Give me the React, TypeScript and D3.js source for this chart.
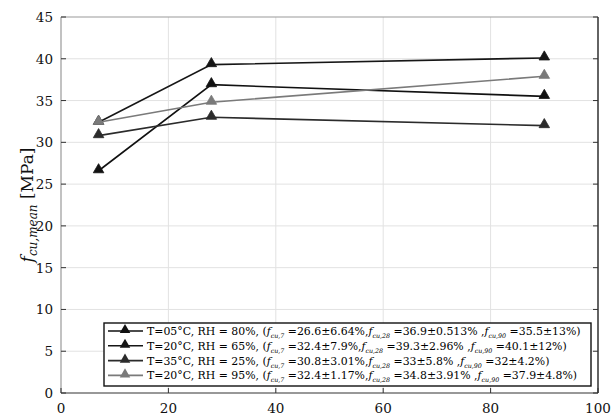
import * as d3 from 'd3';

const ages = [7, 28, 90];
const seriesNames = ['T=05°C, RH = 80%', 'T=20°C, RH = 65%', 'T=35°C, RH = 25%', 'T=20°C, RH = 95%'];
const s1 = [26.6, 36.9, 35.5];
const s2 = [32.4, 39.3, 40.1];
const s3 = [30.8, 33, 32];
const s4 = [32.4, 34.8, 37.9];
const spreads = [
  ['6.64', '0.513', '13'],
  ['7.9', '2.96', '12'],
  ['3.01', '5.8', '4.2'],
  ['1.17', '3.91', '4.8'],
];
const xTicks = [0, 20, 40, 60, 80, 100];
const yTicks = [0, 5, 10, 15, 20, 25, 30, 35, 40, 45];

const COLORS = ['#111111', '#161616', '#2b2b2b', '#7a7a7a'];

const W = 612;
const H = 418;
const margin = { top: 17, right: 14, bottom: 25, left: 61 };
const SERIF = '"DejaVu Serif", "Liberation Serif", serif';

function Sub({ s }: { s: string }) {
  return (
    <>
      <tspan fontStyle='italic'>f</tspan>
      <tspan fontStyle='italic' fontSize='0.58em' dy={3}>{`cu,${s}`}</tspan>
      <tspan dy={-3}>{' '}</tspan>
    </>
  );
}

export default function App() {
  const series = [s1, s2, s3, s4];
  const x = d3.scaleLinear().domain([0, 100]).range([margin.left, W - margin.right]);
  const y = d3.scaleLinear().domain([0, 45]).range([H - margin.bottom, margin.top]);
  const line = d3
    .line<number>()
    .x((_, i) => x(ages[i]))
    .y((d) => y(d));
  const tri = d3.symbol(d3.symbolTriangle, 48)() ?? '';

  const [x0, x1] = x.range();
  const [yb, yt] = y.range();

  const lg = { x: 104, y: 323, w: 487, h: 63, row: 14.8 };

  return (
    <svg width={W} height={H} style={{ position: 'absolute', left: 0, top: 0, background: '#fff' }}>
      {/* grid */}
      {xTicks.slice(1, -1).map((t) => (
        <line key={'gx' + t} x1={x(t)} x2={x(t)} y1={yt} y2={yb} stroke='#e2e2e2' strokeWidth={1} />
      ))}
      {yTicks.slice(1, -1).map((t) => (
        <line key={'gy' + t} x1={x0} x2={x1} y1={y(t)} y2={y(t)} stroke='#e2e2e2' strokeWidth={1} />
      ))}

      {/* series */}
      {series.map((s, k) => (
        <g key={k}>
          <path d={line(s) ?? ''} fill='none' stroke={COLORS[k]} strokeWidth={1.6} />
          {s.map((v, i) => (
            <path key={i} d={tri} transform={`translate(${x(ages[i])},${y(v) - 1})`} fill={COLORS[k]} stroke={COLORS[k]} strokeWidth={0.8} />
          ))}
        </g>
      ))}

      {/* legend */}
      <rect x={lg.x} y={lg.y} width={lg.w} height={lg.h} fill='#fff' stroke='#111' strokeWidth={1.4} />
      {seriesNames.map((name, k) => {
        const ry = lg.y + 8 + k * lg.row;
        const s = series[k];
        const sp = spreads[k];
        return (
          <g key={name}>
            <line x1={lg.x + 4} x2={lg.x + 39} y1={ry} y2={ry} stroke={COLORS[k]} strokeWidth={1.6} />
            <path d={tri} transform={`translate(${lg.x + 21},${ry - 1})`} fill={COLORS[k]} />
            <text x={lg.x + 43} y={ry + 4} fontFamily={SERIF} fontSize={10.9} fill='#000'>
              {name + ', ('}
              <Sub s='7' />
              {`=${s[0]}±${sp[0]}%,`}
              <Sub s='28' />
              {`=${s[1]}±${sp[1]}% ,`}
              <Sub s='90' />
              {`=${s[2]}±${sp[2]}%)`}
            </text>
          </g>
        );
      })}

      {/* axes box */}
      <line x1={x0} x2={x1} y1={yt} y2={yt} stroke='#999' strokeWidth={1.2} />
      <line x1={x0} x2={x0} y1={yt} y2={yb} stroke='#999' strokeWidth={1.2} />
      <line x1={x0} x2={x1} y1={yb} y2={yb} stroke='#333' strokeWidth={1.2} />
      <line x1={x1} x2={x1} y1={yt} y2={yb} stroke='#222' strokeWidth={1.4} />
      {xTicks.map((t) => (
        <g key={'tx' + t}>
          <line x1={x(t)} x2={x(t)} y1={yb} y2={yb - 5} stroke='#333' />
          <text x={x(t)} y={yb + 20} textAnchor='middle' fontFamily={SERIF} fontSize={13.5} fill='#111'>
            {t}
          </text>
        </g>
      ))}
      {yTicks.map((t) => (
        <g key={'ty' + t}>
          <line x1={x0} x2={x0 + 5} y1={y(t)} y2={y(t)} stroke='#333' />
          <line x1={x1} x2={x1 - 5} y1={y(t)} y2={y(t)} stroke='#333' />
          <text x={x0 - 8} y={y(t) + 5} textAnchor='end' fontFamily={SERIF} fontSize={13.5} fill='#111'>
            {t}
          </text>
        </g>
      ))}

      {/* y label */}
      <text transform={`translate(33,${(yt + yb) / 2}) rotate(-90)`} textAnchor='middle' fontFamily={SERIF} fontSize={17} fill='#111'>
        <tspan fontStyle='italic'>f</tspan>
        <tspan fontStyle='italic' fontSize={12} dy={4}>cu,mean</tspan>
        <tspan dy={-4}> [MPa]</tspan>
      </text>
    </svg>
  );
}
